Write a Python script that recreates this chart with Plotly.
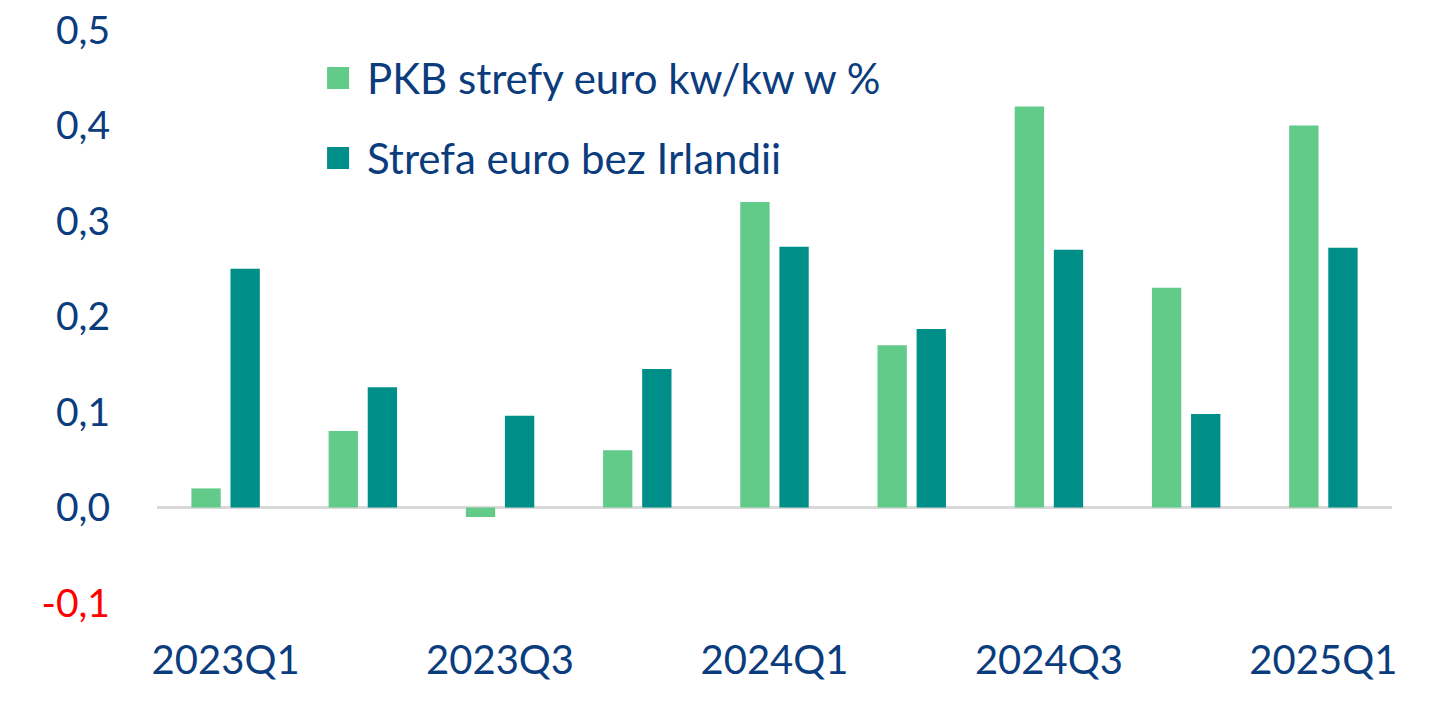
import plotly.graph_objects as go

quarters = ["2023Q1", "2023Q2", "2023Q3", "2023Q4", "2024Q1", "2024Q2", "2024Q3", "2024Q4", "2025Q1"]
pkb_ez = [0.02, 0.08, -0.01, 0.06, 0.32, 0.17, 0.42, 0.23, 0.40]
ez_ex_ireland = [0.25, 0.126, 0.096, 0.145, 0.273, 0.187, 0.27, 0.098, 0.272]

name_1 = "PKB strefy euro kw/kw w %"
name_2 = "Strefa euro bez Irlandii"

x_tickvals = ["2023Q1", "2023Q3", "2024Q1", "2024Q3", "2025Q1"]
y_tickvals = [-0.1, 0.0, 0.1, 0.2, 0.3, 0.4, 0.5]
y_ticktext = ["<span style='color:#FF0000'>-0,1</span>", "0,0", "0,1", "0,2", "0,3", "0,4", "0,5"]

TXT = "#0B3C7D"
FONT = "Lato"
C1 = "#63CB8A"
C2 = "#008F88"

fig = go.Figure()
fig.add_trace(go.Bar(x=quarters, y=pkb_ez, name=name_1, marker_color=C1,
                     marker_line_width=0, showlegend=False))
fig.add_trace(go.Bar(x=quarters, y=ez_ex_ireland, name=name_2, marker_color=C2,
                     marker_line_width=0, showlegend=False))

# legend drawn as squares + text (paper coordinates)
legend_items = [(name_1, C1, 0.9162), (name_2, C2, 0.7766)]
for label, color, yc in legend_items:
    fig.add_shape(type="rect", xref="paper", yref="paper",
                  xsizemode="pixel", ysizemode="pixel",
                  xanchor=0.1377, yanchor=yc, x0=0, x1=22, y0=-11, y1=11,
                  fillcolor=color, line_width=0)
    fig.add_annotation(xref="paper", yref="paper", x=0.1684, y=yc,
                       xanchor="left", yanchor="middle", text=label, showarrow=False,
                       font=dict(size=42, color=TXT, family=FONT))

fig.update_layout(
    width=1429, height=715,
    margin=dict(l=157, r=37, t=30, b=112, autoexpand=False),
    paper_bgcolor="white", plot_bgcolor="white",
    font=dict(family=FONT, color=TXT, size=38),
    barmode="group", bargap=0.43, bargroupgap=0.25,
    showlegend=False,
)
fig.update_xaxes(type="category", tickmode="array", tickvals=x_tickvals, ticktext=x_tickvals,
                 showgrid=False, showline=False, ticks="", ticklabelstandoff=30, automargin=False,
                 tickfont=dict(size=40, color=TXT, family=FONT))
fig.update_yaxes(range=[-0.1, 0.5], tickmode="array", tickvals=y_tickvals, ticktext=y_ticktext,
                 showgrid=False, showline=False, ticks="", zeroline=True, automargin=False,
                 zerolinecolor="#D9D9D9", zerolinewidth=3, ticklabelstandoff=46,
                 tickfont=dict(size=39, color=TXT, family=FONT))

fig.write_html("out.html")
